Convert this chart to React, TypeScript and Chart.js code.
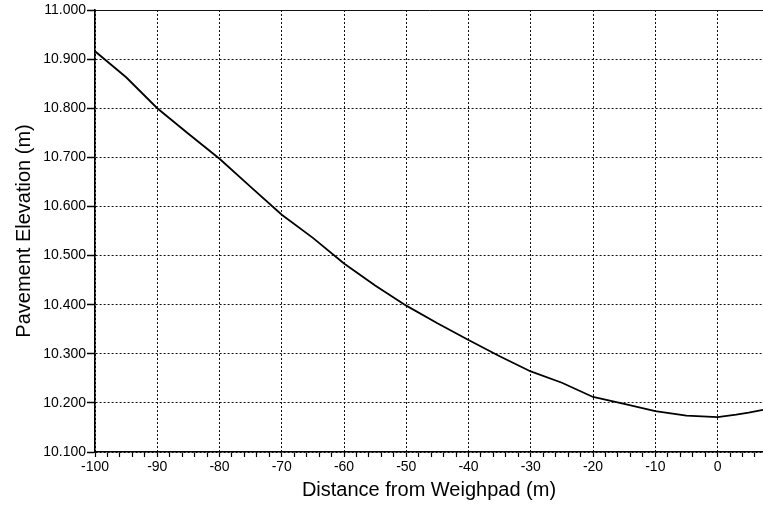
import React, { useEffect, useRef } from "react";
import { Chart, registerables } from "chart.js";

Chart.register(...registerables);

const distances = [-100, -95, -90, -85, -80, -75, -70, -65, -60, -55, -50, -45, -40, -35, -30, -25, -20, -15, -10, -5, 0, 3, 5, 7.3];
const elevations = [10.916, 10.863, 10.8, 10.748, 10.697, 10.64, 10.583, 10.536, 10.484, 10.439, 10.398, 10.362, 10.328, 10.295, 10.264, 10.241, 10.212, 10.198, 10.183, 10.174, 10.171, 10.176, 10.18, 10.186];

const xTickValues = [-100, -98, -96, -94, -92, -90, -88, -86, -84, -82, -80, -78, -76, -74, -72, -70, -68, -66, -64, -62, -60, -58, -56, -54, -52, -50, -48, -46, -44, -42, -40, -38, -36, -34, -32, -30, -28, -26, -24, -22, -20, -18, -16, -14, -12, -10, -8, -6, -4, -2, 0, 2, 4, 6];
const yTickValues = [10.1, 10.2, 10.3, 10.4, 10.5, 10.6, 10.7, 10.8, 10.9, 11.0];

const xMin = -100;
const xMax = 7.3;
const yMin = 10.1;
const yMax = 11.0;

const FONT = "'Liberation Sans', Arial, Helvetica, sans-serif";

export default function App() {
  const ref = useRef<HTMLCanvasElement | null>(null);

  useEffect(() => {
    document.body.style.margin = "0";
    const canvas = ref.current;
    if (!canvas) return;
    const chart = new Chart(canvas, {
      type: "line",
      data: {
        datasets: [
          {
            data: distances.map((d, i) => ({ x: d, y: elevations[i] })),
            borderColor: "#000",
            borderWidth: 1.8,
            pointRadius: 0,
            tension: 0,
            fill: false,
          },
        ],
      },
      options: {
        responsive: false,
        animation: false,
        parsing: false as any,
        layout: { padding: { top: 10, left: 12, right: 0, bottom: 0 } },
        plugins: { legend: { display: false }, tooltip: { enabled: false } },
        scales: {
          x: {
            type: "linear",
            min: xMin,
            max: xMax,
            afterBuildTicks: (scale: any) => {
              scale.ticks = xTickValues.map((v) => ({ value: v }));
            },
            afterFit: (scale: any) => {
              scale.height = 57;
            },
            ticks: {
              autoSkip: false,
              maxRotation: 0,
              minRotation: 0,
              padding: 2,
              color: "#000",
              font: { family: FONT, size: 14 },
              callback: (v: any) => (Number(v) % 10 === 0 ? String(v) : ""),
            },
            grid: {
              color: (ctx: any) => (ctx.tick && ctx.tick.value % 10 === 0 ? "#111" : "rgba(0,0,0,0)"),
              lineWidth: 1,
              tickColor: "#000",
              tickWidth: 1.2,
              tickLength: 5,
              tickBorderDash: [],
            },
            border: { display: true, color: "#000", width: 1.6, dash: [2, 2] },
            title: {
              display: true,
              text: "Distance from Weighpad (m)",
              color: "#000",
              font: { family: FONT, size: 20 },
              padding: { top: 0, bottom: 7 },
            },
          },
          y: {
            type: "linear",
            min: yMin,
            max: yMax,
            afterBuildTicks: (scale: any) => {
              scale.ticks = yTickValues.map((v) => ({ value: v }));
            },
            afterFit: (scale: any) => {
              scale.width = 83;
            },
            ticks: {
              padding: 1,
              color: "#000",
              font: { family: FONT, size: 14 },
              callback: (v: any) => Number(v).toFixed(3),
            },
            grid: {
              color: "#111",
              lineWidth: 1,
              tickColor: "#000",
              tickWidth: 1.5,
              tickLength: 8,
              tickBorderDash: [],
            },
            border: {
              display: true,
              color: "#000",
              width: 1.6,
              dash: (ctx: any) => (ctx.tick && Math.abs(ctx.tick.value - yMax) < 1e-6 ? [] : [2, 2]),
            },
            title: {
              display: true,
              text: "Pavement Elevation (m)",
              color: "#000",
              font: { family: FONT, size: 20 },
              padding: { top: 0, bottom: 0 },
            },
          },
        },
      } as any,
    });
    return () => chart.destroy();
  }, []);

  return (
    <div style={{ width: 763, height: 509, background: "#fff" }}>
      <canvas ref={ref} width={763} height={509} style={{ display: "block" }} />
    </div>
  );
}
